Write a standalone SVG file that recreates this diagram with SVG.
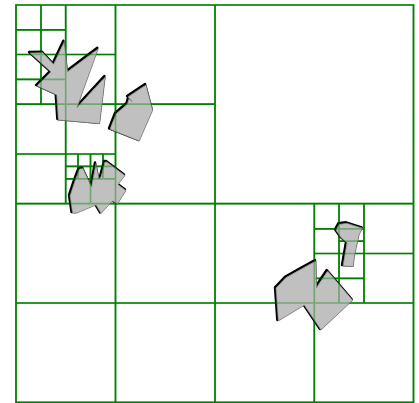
<svg xmlns="http://www.w3.org/2000/svg" xmlns:xlink="http://www.w3.org/1999/xlink" width="419" height="403" viewBox="0 0 419 403">
<style>
.grid{fill:none;stroke:#008000;stroke-width:1.7}
.shadow{fill:none;stroke:#000;stroke-width:2.4;stroke-linejoin:round}
.body{fill:#c0c0c0;stroke:#7a7a7a;stroke-width:0.7;stroke-linejoin:round}
</style>
<defs>
<path id="gridlines" d="M16 5H413.5V402.3H16Z
M215 5V402.3 M16 203.7H413.5
M115.5 5V203.7 M16 104.2H215
M65.7 5V203.7 M16 54.5H115.5
M41 5V104.2 M16 29.8H65.7 M16 79.3H65.7
M16 154H115.5
M90.5 154V203.7 M65.7 178.8H115.5
M78 154V178.8 M103 154V178.8 M65.7 166.3H115.5
M115.5 203.7V402.3 M16 303H413.5
M314.3 203.7V402.3
M364 203.7V303 M314.3 253.5H413.5
M339 203.7V303 M314.3 228.8H364 M314.3 278.3H364
M339 241.2H364"/>
<polygon id="pA" points="29,52 41.7,51.7 52.7,63.3 63.3,40.7 66.7,70.7 97.3,47.7 76,106.7 104.3,76 98.7,122.7 57.3,119 55.7,94 36,85 50,71"/>
<polygon id="pB" points="145,84 151.7,109.3 138.3,140 109,128.3 115,113 126.5,103 128,97.5 131,100.5 127,96"/>
<polygon id="pC" points="71.5,212 69,195 74,180 78.5,168 82,167.5 86,176 90.5,186 95,162.5 98,178 100,176 104,161 106,161 124,174.5 117,183.5 125,189.5 116.5,203 111.5,200 100,212.5 95,204 76,212"/>
<polygon id="pD" points="335,229.3 338.3,223.3 346,222.3 361.7,227.3 358.3,233.3 353.5,255 352.3,265.5 342,265 346,241.7 340,236.7"/>
<polygon id="pE" points="275,287.3 285,276.7 300,268.3 315,260 315.7,286.7 319.3,281 326.7,270 351.7,299.3 320,329 303.3,304.3 277.3,320"/>
</defs>
<g id="grid-under"><use xlink:href="#gridlines" class="grid"/></g>
<g id="polygons">
<g id="polyA"><use xlink:href="#pA" class="shadow"/><use xlink:href="#pA" class="body" transform="translate(1,1)"/></g>
<g id="polyB"><use xlink:href="#pB" class="shadow"/><use xlink:href="#pB" class="body" transform="translate(1,1)"/></g>
<g id="polyC"><use xlink:href="#pC" class="shadow"/><use xlink:href="#pC" class="body" transform="translate(1,1)"/></g>
<g id="polyD"><use xlink:href="#pD" class="shadow"/><use xlink:href="#pD" class="body" transform="translate(1,1)"/></g>
<g id="polyE"><use xlink:href="#pE" class="shadow"/><use xlink:href="#pE" class="body" transform="translate(1,1)"/></g>
</g>
<g id="grid-over" opacity="0.4"><use xlink:href="#gridlines" class="grid"/></g>
</svg>
